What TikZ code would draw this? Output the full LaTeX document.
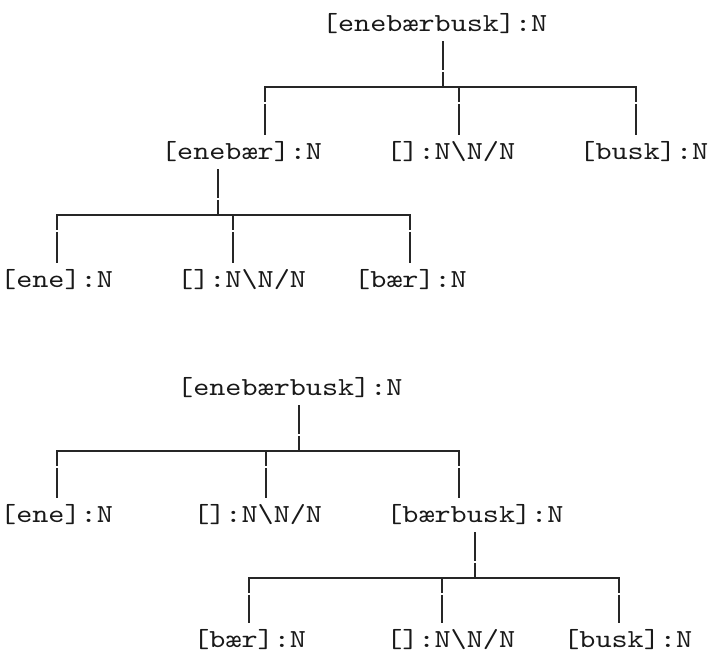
\documentclass[tikz,border=0pt]{standalone}
\usepackage{fontspec}
\newfontfamily\treefont[FakeStretch=1.179]{lmmono10-regular.otf}
\usetikzlibrary{calc}

% stem from a parent label down to the junction on its bar (#2)
\newcommand\treestem[2]{%
  \draw[wire] (#1.base -| #2) ++(0,10) -- ++(0,29.2) ++(0,1.6) -- (#2);}
% drop from a junction on the bar (#1) down to the child label (#2)
\newcommand\treedrop[2]{%
  \draw[wire] (#1) -- ++(0,15.2) ++(0,1.6) -- ($(#2.base -| #1)+(0,-24)$);}

\begin{document}
\begin{tikzpicture}[x=1pt,y=-1pt,
  lbl/.style={anchor=base west, inner sep=0pt,
    font=\treefont\fontsize{26}{32}\selectfont, text=black!90},
  wire/.style={draw=black!85, line width=2pt},
  bar/.style={wire, line cap=rect}]
\useasboundingbox (0,0) rectangle (708,653);
\def\cw{16.09}

% ---------- first analysis ----------
\node[lbl] (tA) at (\cw*20, 31)  {[enebærbusk]:N};
\node[lbl] (tB) at (\cw*10, 159) {[enebær]:N};
\node[lbl] (tC) at (\cw*24, 159) {[]:N\textbackslash N/N};
\node[lbl] (tD) at (\cw*36, 159) {[busk]:N};
\node[lbl] (tE) at (\cw*0, 287)  {[ene]:N};
\node[lbl] (tF) at (\cw*11, 287) {[]:N\textbackslash N/N};
\node[lbl] (tG) at (\cw*22, 287) {[bær]:N};

\coordinate (tA-j) at (443, 87);
\coordinate (tB-d) at (265, 87);
\coordinate (tC-d) at (459, 87);
\coordinate (tD-d) at (636, 87);
\draw[bar] (tB-d) -- (tD-d);
\treestem{tA}{tA-j}
\treedrop{tB-d}{tB}
\treedrop{tC-d}{tC}
\treedrop{tD-d}{tD}

\coordinate (tB-j) at (218, 215);
\coordinate (tE-d) at (57, 215);
\coordinate (tF-d) at (233, 215);
\coordinate (tG-d) at (410, 215);
\draw[bar] (tE-d) -- (tG-d);
\treestem{tB}{tB-j}
\treedrop{tE-d}{tE}
\treedrop{tF-d}{tF}
\treedrop{tG-d}{tG}

% ---------- second analysis ----------
\node[lbl] (bA) at (\cw*11, 395) {[enebærbusk]:N};
\node[lbl] (bB) at (\cw*0, 522)  {[ene]:N};
\node[lbl] (bC) at (\cw*12, 522) {[]:N\textbackslash N/N};
\node[lbl] (bD) at (\cw*24, 522) {[bærbusk]:N};
\node[lbl] (bE) at (\cw*12, 647) {[bær]:N};
\node[lbl] (bF) at (\cw*24, 647) {[]:N\textbackslash N/N};
\node[lbl] (bG) at (\cw*35, 647) {[busk]:N};

\coordinate (bA-j) at (299, 451);
\coordinate (bB-d) at (57, 451);
\coordinate (bC-d) at (266, 451);
\coordinate (bD-d) at (459, 451);
\draw[bar] (bB-d) -- (bD-d);
\treestem{bA}{bA-j}
\treedrop{bB-d}{bB}
\treedrop{bC-d}{bC}
\treedrop{bD-d}{bD}

\coordinate (bD-j) at (475, 578);
\coordinate (bE-d) at (249, 578);
\coordinate (bF-d) at (442, 578);
\coordinate (bG-d) at (619, 578);
\draw[bar] (bE-d) -- (bG-d);
\treestem{bD}{bD-j}
\treedrop{bE-d}{bE}
\treedrop{bF-d}{bF}
\treedrop{bG-d}{bG}
\end{tikzpicture}
\end{document}
